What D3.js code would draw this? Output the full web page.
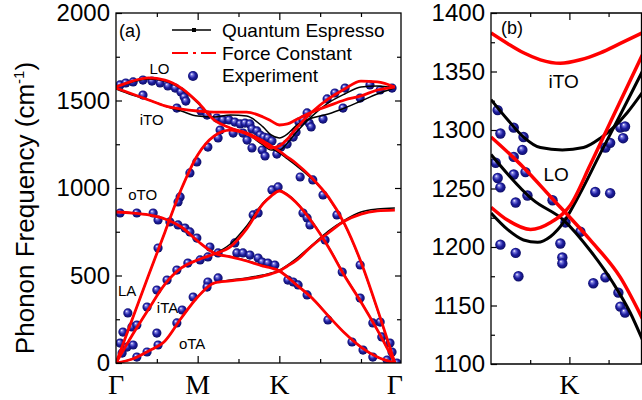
<!DOCTYPE html>
<html>
<head>
<meta charset="utf-8">
<script src="https://cdn.jsdelivr.net/npm/d3@7"></script>
<style>
body { margin: 0; background: #fff; }
svg text { font-family: "Liberation Sans", Arial, sans-serif; fill: #000; }
svg text.sym { font-family: "Liberation Serif", "Times New Roman", serif; }
</style>
</head>
<body>
<div id="chart"></div>
<script>
// ---- data: panel (a), full dispersion along Γ-M-K-Γ ----
// k-path nodes (Γ = 0, M = 2, K = 4, Γ = 6.83)
const kNodes = [0, 0.4, 0.8, 1.2, 1.6, 2.0, 2.4, 2.8, 3.2, 3.6, 3.8, 4.0, 4.2, 4.4, 4.8, 5.2, 5.6, 6.0, 6.4, 6.83];

// Force Constant model (red)
const fcZA = [0, 23, 69, 126, 257, 377, 457, 469, 480, 497, 509, 526, 554, 583, 669, 743, 811, 851, 869, 874];
const fcZO = [863, 857, 846, 823, 777, 697, 629, 606, 583, 554, 543, 526, 491, 451, 371, 269, 171, 91, 34, 0];
const fcTA = [0, 160, 309, 451, 543, 589, 623, 663, 766, 909, 954, 983, 960, 920, 806, 663, 497, 349, 189, 0];
const fcLO = [1577, 1611, 1629, 1617, 1571, 1491, 1389, 1343, 1314, 1269, 1240, 1211, 1177, 1143, 1057, 949, 794, 577, 309, 0];
const fcLA = [0, 251, 503, 749, 994, 1189, 1297, 1331, 1309, 1257, 1229, 1240, 1280, 1337, 1434, 1509, 1566, 1611, 1606, 1577];
const fcTO = [1571, 1537, 1503, 1469, 1451, 1440, 1434, 1434, 1434, 1406, 1383, 1360, 1366, 1389, 1434, 1469, 1503, 1526, 1560, 1577];

// Quantum Espresso (black)
const qeZA = [0, 23, 69, 126, 257, 377, 457, 474, 486, 503, 514, 531, 560, 594, 674, 754, 817, 863, 880, 886];
const qeZO = [863, 857, 846, 823, 777, 697, 629, 609, 586, 557, 545, 529, 494, 454, 374, 271, 171, 91, 34, 0];
const qeTA = [0, 160, 309, 451, 543, 589, 623, 680, 783, 914, 957, 986, 963, 923, 809, 666, 500, 351, 189, 0];
const qeLO = [1577, 1606, 1623, 1611, 1566, 1486, 1389, 1343, 1314, 1263, 1229, 1200, 1166, 1131, 1051, 946, 791, 574, 306, 0];
const qeLA = [0, 251, 503, 749, 994, 1189, 1297, 1331, 1309, 1246, 1217, 1217, 1257, 1314, 1411, 1486, 1537, 1577, 1583, 1571];
const qeTO = [1566, 1531, 1503, 1469, 1440, 1411, 1406, 1417, 1411, 1349, 1303, 1286, 1309, 1354, 1400, 1423, 1457, 1497, 1537, 1571];

// experiment [k, frequency]
const expA = [
  [0.10,1589],[0.24,1600],[0.42,1606],[0.66,1617],[0.88,1611],[1.08,1600],[1.27,1583],[1.45,1571],[1.59,1549],
  [1.67,1520],[1.71,1497],[0.66,1531],[1.49,1457],[2.08,1440],[2.23,1417],[2.47,1400],[2.62,1389],[2.77,1389],
  [2.91,1377],[3.04,1366],[3.16,1371],[3.28,1366],[3.33,1337],[3.45,1326],[3.53,1303],[3.62,1291],[3.72,1286],
  [3.82,1269],[2.55,1331],[2.50,1286],[2.87,1314],[3.11,1314],[3.21,1274],[3.33,1229],[3.58,1217],[3.65,1183],
  [3.94,1194],[4.04,1234],[4.19,1251],[4.34,1291],[4.41,1320],[4.48,1377],[4.58,1389],[4.73,1371],[4.78,1349],
  [4.68,1429],[5.07,1394],[5.17,1509],[5.36,1543],[5.56,1457],[5.61,1571],[5.98,1514],[6.22,1589],[6.47,1560],
  [6.76,1571],
  [1.57,949],[1.81,1086],[1.98,1149],[2.25,1234],[0.29,286],[0.39,206],[0.51,217],
  [0.17,177],[0.10,114],[0.15,57],[0.27,91],[0.42,103],[1.03,657],[1.52,920],
  [4.51,1063],[4.82,1046],[5.07,960],[5.41,846],[5.98,560],[6.47,234],[6.71,114],
  [3.82,989],[3.97,1006],[4.58,857],[4.68,829],[4.75,789],[5.12,703],[5.54,520],[5.98,371],[6.29,229],
  [6.51,149],[6.76,63],[3.36,846],[3.48,857],[2.91,686],
  [2.96,629],[3.11,629],[3.28,617],[3.48,600],[3.58,577],[3.72,571],[3.89,560],
  [4.21,474],[4.34,463],[4.46,446],[4.68,389],[5.19,246],[5.78,120],[6.05,74],[6.29,34],[6.64,17],[6.88,0],
  [2.25,463],[2.50,486],
  [0.10,857],[0.51,857],[0.91,857],[1.03,817],[1.32,806],[1.52,789],[1.69,771],[1.81,749],[1.98,714],
  [2.30,663],[2.50,629],
  [0.76,320],[1.00,417],[1.25,474],[1.49,531],[1.76,571],[2.06,589],[2.25,606],[1.62,303],
  [0.51,34],[0.76,63],[1.03,103],[1.00,171],[1.49,229],[1.89,377],[2.23,434]
];

const symLabels = ["Γ", "M", "K", "Γ"];
const symPos = [0, 2, 4, 6.83];
const branchLabels = ["LO", "iTO", "oTO", "LA", "iTA", "oTA"];

// ---- data: panel (b), zoom around K ----
const bTOfc = [[-2,1383],[-1.58,1374],[-1.17,1366],[-0.74,1360],[-0.23,1357],[0.28,1360],[0.79,1366],[1.30,1374],[1.86,1383]];
const bTOqe = [[-2,1326],[-1.58,1309],[-1.17,1294],[-0.74,1285],[-0.18,1283],[0.36,1285],[0.79,1293],[1.12,1302],[1.48,1315],[1.86,1332]];
const bLOfc = [[-2,1294],[-1.17,1268],[-0.48,1243],[0.53,1206],[1.30,1174],[1.86,1139]];
const bLOqe = [[-2,1279],[-0.92,1240],[-0.15,1223],[0.53,1197],[1.12,1169],[1.55,1144],[1.86,1121]];
const bLAfc = [[-2,1234],[-1.58,1223],[-0.99,1215],[-0.48,1221],[0.03,1236],[0.53,1270],[1.12,1312],[1.86,1364]];
const bLAqe = [[-2,1229],[-1.58,1215],[-1.17,1206],[-0.81,1204],[-0.48,1209],[-0.15,1221],[0.18,1240],[0.79,1280],[1.30,1313],[1.86,1350]];
const expB = [
  [-1.83,1317],[-1.76,1297],[-1.42,1302],[-1.17,1294],[-1.20,1283],[-1.88,1272],[-1.83,1259],[-1.76,1251],
  [-1.42,1277],[-1.42,1262],[-1.12,1264],[-1.07,1244],[-0.43,1240],[0.66,1247],[1.04,1246],[0.92,1285],
  [1.04,1289],[1.30,1302],[1.42,1303],[1.37,1293],[-1.37,1238],[-0.10,1221],[0.28,1213],[-1.76,1202],
  [-1.37,1195],[-1.30,1175],[-0.23,1203],[-0.18,1191],[-0.18,1186],[0.61,1169],[0.92,1174],[1.25,1161],
  [1.30,1149],[1.42,1144]
];

const legendNames = ["Quantum Espresso", "Force Constant", "Experiment"];

//----------------------------------------------------------------
const svg = d3.select("#chart").append("svg")
  .attr("width", 642)
  .attr("height", 400);

// shaded ball for the experiment markers
const defs = svg.append("defs");
const ball = defs.append("radialGradient").attr("id", "ball")
  .attr("cx", "0.5").attr("cy", "0.5").attr("r", "0.55")
  .attr("fx", "0.35").attr("fy", "0.3");
ball.append("stop").attr("offset", "0%").attr("stop-color", "#ffffff");
ball.append("stop").attr("offset", "22%").attr("stop-color", "#7b7be0");
ball.append("stop").attr("offset", "55%").attr("stop-color", "#1e1ea0");
ball.append("stop").attr("offset", "100%").attr("stop-color", "#0b0b5c");

// scales
const xA = d3.scaleLinear().domain([0, 6.98]).range([116, 401]);
const yA = d3.scaleLinear().domain([0, 2000]).range([363, 13]);
const xB = d3.scaleLinear().domain([-2, 1.84]).range([491, 641.5]);
const yB = d3.scaleLinear().domain([1100, 1400]).range([364, 13]);

defs.append("clipPath").attr("id", "clipA").append("rect")
  .attr("x", 116).attr("y", 13).attr("width", 285).attr("height", 350);
defs.append("clipPath").attr("id", "clipB").append("rect")
  .attr("x", 491).attr("y", 13).attr("width", 151).attr("height", 351);

// helper for the tick-only axes
function ticksOnly(axis, vals, size) {
  return axis.tickValues(vals).tickSize(size).tickFormat("");
}
function styleAxis(g) {
  g.select(".domain").remove();
  g.selectAll("line").attr("stroke", "#000").attr("stroke-width", 1.2);
  g.selectAll("text").attr("font-size", 24).attr("fill", "#000");
}

// ---------------- panel (a) ----------------
const pa = svg.append("g");

// axes
pa.append("g").attr("transform", "translate(116,0)")
  .call(d3.axisLeft(yA).tickValues([0, 500, 1000, 1500, 2000]).tickSize(-6).tickPadding(6).tickFormat(d3.format("d")))
  .call(styleAxis);
pa.append("g").attr("transform", "translate(116,0)")
  .call(ticksOnly(d3.axisLeft(yA), [250, 750, 1250, 1750], -4)).call(styleAxis);
pa.append("g").attr("transform", "translate(401,0)")
  .call(ticksOnly(d3.axisRight(yA), [500, 1000, 1500], -6)).call(styleAxis);
pa.append("g").attr("transform", "translate(401,0)")
  .call(ticksOnly(d3.axisRight(yA), [250, 750, 1250, 1750], -4)).call(styleAxis);
pa.append("g").attr("transform", "translate(0,363)")
  .call(ticksOnly(d3.axisBottom(xA), [1, 3, 5, 6], -4)).call(styleAxis);
pa.append("g").attr("transform", "translate(0,363)")
  .call(ticksOnly(d3.axisBottom(xA), [2, 4], -7)).call(styleAxis);
pa.append("g").attr("transform", "translate(0,13)")
  .call(ticksOnly(d3.axisTop(xA), [1, 3, 5, 6], -4)).call(styleAxis);
pa.append("g").attr("transform", "translate(0,13)")
  .call(ticksOnly(d3.axisTop(xA), [2, 4], -7)).call(styleAxis);

// symmetry point labels
pa.selectAll(".sym").data(symLabels).enter().append("text")
  .attr("class", "sym")
  .attr("x", (d, i) => xA(symPos[i]))
  .attr("y", 394)
  .attr("text-anchor", "middle")
  .attr("font-size", 28)
  .text(d => d);

// experiment dots
const plotA = pa.append("g").attr("clip-path", "url(#clipA)");
plotA.selectAll("circle").data(expA).enter().append("circle")
  .attr("cx", d => xA(d[0]))
  .attr("cy", d => yA(d[1]))
  .attr("r", 4.6)
  .attr("fill", "url(#ball)");

// curves
const lineA = d3.line().x((d, i) => xA(kNodes[i])).y(d => yA(d)).curve(d3.curveMonotoneX);
[qeZA, qeZO, qeTA, qeLO, qeLA, qeTO].forEach(arr => {
  plotA.append("path").attr("d", lineA(arr)).attr("fill", "none")
    .attr("stroke", "#000").attr("stroke-width", 1.5);
});
[fcZA, fcZO, fcTA, fcLO, fcLA, fcTO].forEach(arr => {
  plotA.append("path").attr("d", lineA(arr)).attr("fill", "none")
    .attr("stroke", "#ff0000").attr("stroke-width", 2.8);
});

// frame
pa.append("rect").attr("x", 116).attr("y", 13).attr("width", 285).attr("height", 350)
  .attr("fill", "none").attr("stroke", "#000").attr("stroke-width", 1.3);

// branch names (positions in data coordinates)
const branchPos = [[0.82, 1650], [0.58, 1360], [0.3, 930], [0.05, 385], [1.0, 285], [1.54, 80]];
pa.selectAll(".branch").data(branchLabels).enter().append("text")
  .attr("x", (d, i) => xA(branchPos[i][0]))
  .attr("y", (d, i) => yA(branchPos[i][1]))
  .attr("font-size", 15)
  .text(d => d);

pa.append("text").attr("x", 119).attr("y", 37).attr("font-size", 18).text("(a)");

// legend
const leg = pa.append("g");
leg.append("line").attr("x1", 172).attr("x2", 211).attr("y1", 30).attr("y2", 30)
  .attr("stroke", "#000").attr("stroke-width", 1.5);
leg.append("rect").attr("x", 192).attr("y", 28).attr("width", 4).attr("height", 4).attr("fill", "#000");
leg.append("line").attr("x1", 172).attr("x2", 216).attr("y1", 53).attr("y2", 53)
  .attr("stroke", "#ff0000").attr("stroke-width", 2.2).attr("stroke-dasharray", "16,5,3,5,16");
leg.append("circle").attr("cx", 193).attr("cy", 76).attr("r", 5).attr("fill", "url(#ball)");
leg.selectAll(".lt").data(legendNames).enter().append("text")
  .attr("x", 222)
  .attr("y", (d, i) => 37 + i * 22.5)
  .attr("font-size", 19)
  .text(d => d);

// y title
svg.append("text")
  .attr("transform", "translate(34,208) rotate(-90)")
  .attr("text-anchor", "middle")
  .attr("font-size", 26)
  .html('Phonon Frequency (cm<tspan dy="-10" font-size="15">-1</tspan><tspan dy="10">)</tspan>');

// ---------------- panel (b) ----------------
const pb = svg.append("g");
pb.append("g").attr("transform", "translate(491,0)")
  .call(d3.axisLeft(yB).tickValues(d3.range(1100, 1401, 50)).tickSize(-6).tickPadding(6).tickFormat(d3.format("d")))
  .call(styleAxis);
pb.append("g").attr("transform", "translate(491,0)")
  .call(ticksOnly(d3.axisLeft(yB), d3.range(1125, 1400, 50), -4)).call(styleAxis);
pb.append("g").attr("transform", "translate(0,364)")
  .call(ticksOnly(d3.axisBottom(xB), [-1, 1], -4)).call(styleAxis);
pb.append("g").attr("transform", "translate(0,364)")
  .call(ticksOnly(d3.axisBottom(xB), [0], -7)).call(styleAxis);
pb.append("g").attr("transform", "translate(0,13)")
  .call(ticksOnly(d3.axisTop(xB), [-1, 1], -4)).call(styleAxis);
pb.append("g").attr("transform", "translate(0,13)")
  .call(ticksOnly(d3.axisTop(xB), [0], -7)).call(styleAxis);

pb.append("text").attr("class", "sym").attr("x", xB(0)).attr("y", 394).attr("text-anchor", "middle")
  .attr("font-size", 28).text(symLabels[2]);

const plotB = pb.append("g").attr("clip-path", "url(#clipB)");
plotB.selectAll("circle").data(expB).enter().append("circle")
  .attr("cx", d => xB(d[0]))
  .attr("cy", d => yB(d[1]))
  .attr("r", 5.2)
  .attr("fill", "url(#ball)");

const lineB = d3.line().x(d => xB(d[0])).y(d => yB(d[1])).curve(d3.curveMonotoneX);
[bTOqe, bLOqe, bLAqe].forEach(arr => {
  plotB.append("path").attr("d", lineB(arr)).attr("fill", "none")
    .attr("stroke", "#000").attr("stroke-width", 3);
});
[bTOfc, bLOfc, bLAfc].forEach(arr => {
  plotB.append("path").attr("d", lineB(arr)).attr("fill", "none")
    .attr("stroke", "#ff0000").attr("stroke-width", 3.5);
});

pb.append("path").attr("d", "M491,13V364H641.5V13Z")
  .attr("fill", "none").attr("stroke", "#000").attr("stroke-width", 1.3);

pb.append("text").attr("x", 501).attr("y", 34).attr("font-size", 18).text("(b)");
pb.append("text").attr("x", xB(-0.53)).attr("y", yB(1336)).attr("font-size", 19).text(branchLabels[1]);
pb.append("text").attr("x", xB(-0.66)).attr("y", yB(1256)).attr("font-size", 19).text(branchLabels[0]);
</script>
</body>
</html>
